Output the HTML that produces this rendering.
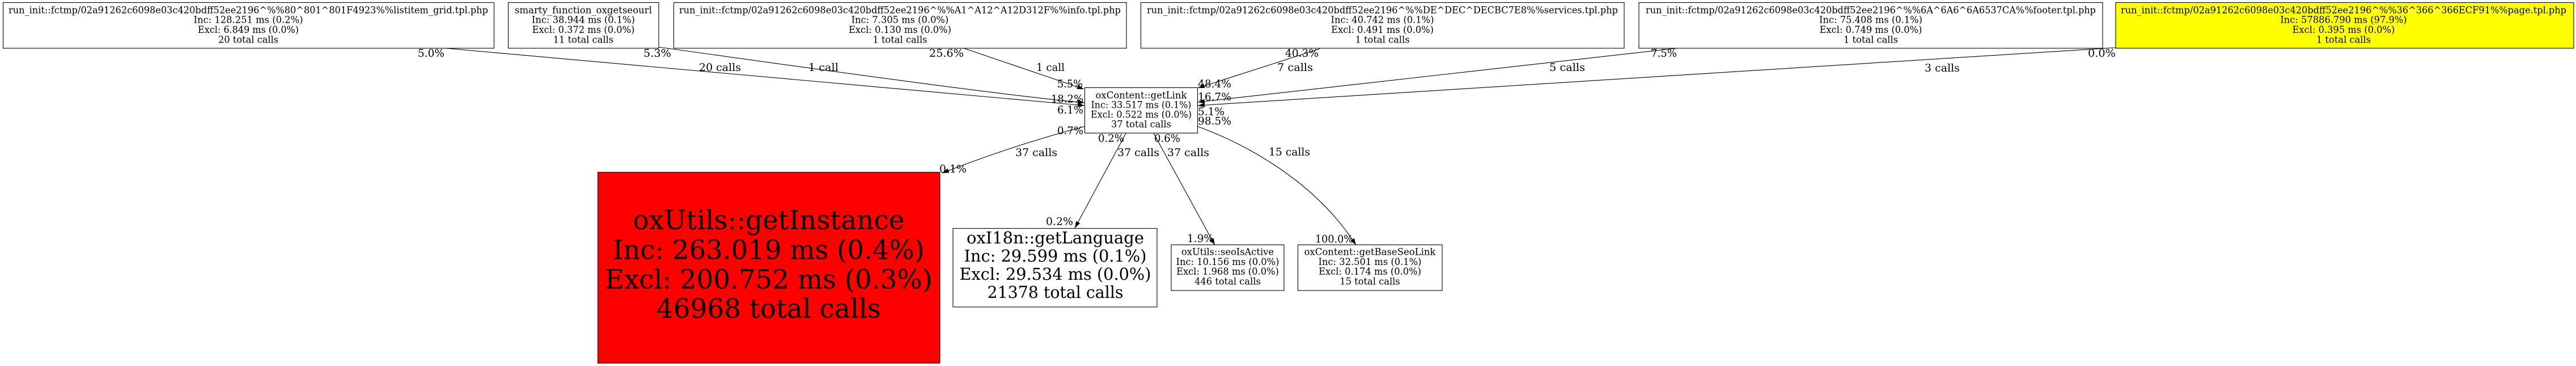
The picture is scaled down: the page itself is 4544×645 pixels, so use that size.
<!DOCTYPE html>
<html>
<head>
<meta charset="utf-8">
<style>
html,body{margin:0;padding:0;background:#fff;}
svg{display:block;}
text{font-family:"DejaVu Serif","Liberation Serif",serif;fill:#000;}
.n{font-size:16.3px;text-anchor:middle;}
.l{font-size:18.5px;}
.e{fill:none;stroke:#000;stroke-width:1.1;marker-end:url(#ah);}
.b{fill:#fff;stroke:#000;stroke-width:1.1;}
</style>
</head>
<body>
<svg width="4544" height="645" viewBox="0 0 4544 645" xmlns="http://www.w3.org/2000/svg">
<defs>
<marker id="ah" viewBox="0 0 12 8" refX="12" refY="4" markerWidth="12" markerHeight="8" orient="auto" markerUnits="userSpaceOnUse">
<path d="M0,0 L12,4 L0,8 z" fill="#000"/>
</marker>
</defs>
<rect x="0" y="0" width="4544" height="645" fill="#fff"/>

<!-- edges -->
<path class="e" d="M786,85 L1913,186"/>
<path class="e" d="M1162,83 C1400,116 1750,166 1913,181"/>
<path class="e" d="M1700,85 L1912,157"/>
<path class="e" d="M2328,86 L2113,155"/>
<path class="e" d="M2958,85 L2113,180"/>
<path class="e" d="M3732,84 L2113,186"/>
<path class="e" d="M1913,223 Q1790,255 1662,305"/>
<path class="e" d="M1986,235 L1896,402"/>
<path class="e" d="M2035,235 L2143,432"/>
<path class="e" d="M2113,223 C2200,255 2320,320 2392,432"/>

<!-- top nodes -->
<rect class="b" x="5.5" y="4.5" width="866" height="80.5"/>
<text class="n" x="438" y="23.3" textLength="846" lengthAdjust="spacingAndGlyphs">run_init::fctmp/02a91262c6098e03c420bdff52ee2196^%%80^801^801F4923%%listitem_grid.tpl.php</text>
<text class="n" x="438" y="40.7" textLength="193" lengthAdjust="spacingAndGlyphs">Inc: 128.251 ms (0.2%)</text>
<text class="n" x="438" y="58" textLength="178" lengthAdjust="spacingAndGlyphs">Excl: 6.849 ms (0.0%)</text>
<text class="n" x="438" y="75.3" textLength="106" lengthAdjust="spacingAndGlyphs">20 total calls</text>

<rect class="b" x="896.5" y="4.5" width="265.5" height="80.5"/>
<text class="n" x="1029" y="23.3" textLength="242" lengthAdjust="spacingAndGlyphs">smarty_function_oxgetseourl</text>
<text class="n" x="1029" y="40.7">Inc: 38.944 ms (0.1%)</text>
<text class="n" x="1029" y="58">Excl: 0.372 ms (0.0%)</text>
<text class="n" x="1029" y="75.3">11 total calls</text>

<rect class="b" x="1188.5" y="4.5" width="798.5" height="80.5"/>
<text class="n" x="1587.5" y="23.3" textLength="779" lengthAdjust="spacingAndGlyphs">run_init::fctmp/02a91262c6098e03c420bdff52ee2196^%%A1^A12^A12D312F%%info.tpl.php</text>
<text class="n" x="1587.5" y="40.7">Inc: 7.305 ms (0.0%)</text>
<text class="n" x="1587.5" y="58">Excl: 0.130 ms (0.0%)</text>
<text class="n" x="1587.5" y="75.3">1 total calls</text>

<rect class="b" x="2012.5" y="4.5" width="852.5" height="80.5"/>
<text class="n" x="2438.5" y="23.3" textLength="831" lengthAdjust="spacingAndGlyphs">run_init::fctmp/02a91262c6098e03c420bdff52ee2196^%%DE^DEC^DECBC7E8%%services.tpl.php</text>
<text class="n" x="2438.5" y="40.7">Inc: 40.742 ms (0.1%)</text>
<text class="n" x="2438.5" y="58">Excl: 0.491 ms (0.0%)</text>
<text class="n" x="2438.5" y="75.3">1 total calls</text>

<rect class="b" x="2891" y="4.5" width="818" height="80.5"/>
<text class="n" x="3300" y="23.3" textLength="794" lengthAdjust="spacingAndGlyphs">run_init::fctmp/02a91262c6098e03c420bdff52ee2196^%%6A^6A6^6A6537CA%%footer.tpl.php</text>
<text class="n" x="3300" y="40.7">Inc: 75.408 ms (0.1%)</text>
<text class="n" x="3300" y="58">Excl: 0.749 ms (0.0%)</text>
<text class="n" x="3300" y="75.3">1 total calls</text>

<rect class="b" x="3732" y="4.5" width="808" height="80.5" style="fill:#ffff00"/>
<text class="n" x="4134" y="23.3" textLength="786" lengthAdjust="spacingAndGlyphs">run_init::fctmp/02a91262c6098e03c420bdff52ee2196^%%36^366^366ECF91%%page.tpl.php</text>
<text class="n" x="4134" y="40.7">Inc: 57886.790 ms (97.9%)</text>
<text class="n" x="4134" y="58">Excl: 0.395 ms (0.0%)</text>
<text class="n" x="4134" y="75.3">1 total calls</text>

<!-- getLink -->
<rect class="b" x="1913.5" y="154.5" width="199" height="80"/>
<text class="n" x="2013" y="173.3" textLength="161" lengthAdjust="spacingAndGlyphs">oxContent::getLink</text>
<text class="n" x="2013" y="190.3" textLength="177" lengthAdjust="spacingAndGlyphs">Inc: 33.517 ms (0.1%)</text>
<text class="n" x="2013" y="207.3" textLength="178" lengthAdjust="spacingAndGlyphs">Excl: 0.522 ms (0.0%)</text>
<text class="n" x="2013" y="224.3" textLength="106" lengthAdjust="spacingAndGlyphs">37 total calls</text>

<!-- red getInstance -->
<rect class="b" x="1054.5" y="303.5" width="603.5" height="336.5" style="fill:#ff0000"/>
<text class="n" style="font-size:46.5px" x="1356" y="404" textLength="479" lengthAdjust="spacingAndGlyphs">oxUtils::getInstance</text>
<text class="n" style="font-size:46.5px" x="1356" y="456.5" textLength="550" lengthAdjust="spacingAndGlyphs">Inc: 263.019 ms (0.4%)</text>
<text class="n" style="font-size:46.5px" x="1356" y="508.5" textLength="578" lengthAdjust="spacingAndGlyphs">Excl: 200.752 ms (0.3%)</text>
<text class="n" style="font-size:46.5px" x="1356" y="560" textLength="396" lengthAdjust="spacingAndGlyphs">46968 total calls</text>

<!-- getLanguage -->
<rect class="b" x="1681" y="402.5" width="360" height="138.5"/>
<text class="n" style="font-size:28.7px" x="1861.5" y="429" textLength="313" lengthAdjust="spacingAndGlyphs">oxI18n::getLanguage</text>
<text class="n" style="font-size:28.7px" x="1861.5" y="461" textLength="322" lengthAdjust="spacingAndGlyphs">Inc: 29.599 ms (0.1%)</text>
<text class="n" style="font-size:28.7px" x="1861.5" y="493" textLength="338" lengthAdjust="spacingAndGlyphs">Excl: 29.534 ms (0.0%)</text>
<text class="n" style="font-size:28.7px" x="1861.5" y="525" textLength="240" lengthAdjust="spacingAndGlyphs">21378 total calls</text>

<!-- seoIsActive -->
<rect class="b" x="2066" y="431.5" width="199" height="80.5"/>
<text class="n" x="2165.5" y="449.5">oxUtils::seoIsActive</text>
<text class="n" x="2165.5" y="466.8">Inc: 10.156 ms (0.0%)</text>
<text class="n" x="2165.5" y="484">Excl: 1.968 ms (0.0%)</text>
<text class="n" x="2165.5" y="501.3">446 total calls</text>

<!-- getBaseSeoLink -->
<rect class="b" x="2289.5" y="431.5" width="254.5" height="80.5"/>
<text class="n" x="2416.5" y="449.5" textLength="232" lengthAdjust="spacingAndGlyphs">oxContent::getBaseSeoLink</text>
<text class="n" x="2416.5" y="466.8">Inc: 32.501 ms (0.1%)</text>
<text class="n" x="2416.5" y="484">Excl: 0.174 ms (0.0%)</text>
<text class="n" x="2416.5" y="501.3">15 total calls</text>

<!-- edge labels -->
<text class="l" x="737" y="100" textLength="47" lengthAdjust="spacingAndGlyphs">5.0%</text>
<text class="l" x="1135" y="100" textLength="49" lengthAdjust="spacingAndGlyphs">5.3%</text>
<text class="l" x="1233" y="125" textLength="74" lengthAdjust="spacingAndGlyphs">20 calls</text>
<text class="l" x="1426" y="125" textLength="53" lengthAdjust="spacingAndGlyphs">1 call</text>
<text class="l" x="1639" y="100" textLength="61" lengthAdjust="spacingAndGlyphs">25.6%</text>
<text class="l" x="1828" y="125" textLength="50" lengthAdjust="spacingAndGlyphs">1 call</text>
<text class="l" x="1865" y="154" textLength="45" lengthAdjust="spacingAndGlyphs">5.5%</text>
<text class="l" x="1854" y="180.7" textLength="57" lengthAdjust="spacingAndGlyphs">18.2%</text>
<text class="l" x="1865" y="200" textLength="46" lengthAdjust="spacingAndGlyphs">6.1%</text>
<text class="l" x="1865" y="236.7" textLength="46" lengthAdjust="spacingAndGlyphs">0.7%</text>
<text class="l" x="1937" y="250" textLength="46" lengthAdjust="spacingAndGlyphs">0.2%</text>
<text class="l" x="2036" y="250" textLength="46" lengthAdjust="spacingAndGlyphs">0.6%</text>
<text class="l" x="2113" y="154" textLength="59" lengthAdjust="spacingAndGlyphs">48.4%</text>
<text class="l" x="2113" y="177" textLength="59" lengthAdjust="spacingAndGlyphs">16.7%</text>
<text class="l" x="2113" y="203" textLength="47" lengthAdjust="spacingAndGlyphs">5.1%</text>
<text class="l" x="2113" y="219.3" textLength="59" lengthAdjust="spacingAndGlyphs">98.5%</text>
<text class="l" x="2267" y="100" textLength="59" lengthAdjust="spacingAndGlyphs">40.3%</text>
<text class="l" x="2253" y="125" textLength="63" lengthAdjust="spacingAndGlyphs">7 calls</text>
<text class="l" x="2733" y="125" textLength="63" lengthAdjust="spacingAndGlyphs">5 calls</text>
<text class="l" x="2912" y="100" textLength="46" lengthAdjust="spacingAndGlyphs">7.5%</text>
<text class="l" x="3395" y="126" textLength="62" lengthAdjust="spacingAndGlyphs">3 calls</text>
<text class="l" x="3683" y="100" textLength="49" lengthAdjust="spacingAndGlyphs">0.0%</text>
<text class="l" x="1791" y="275" textLength="74" lengthAdjust="spacingAndGlyphs">37 calls</text>
<text class="l" x="1971" y="275" textLength="74" lengthAdjust="spacingAndGlyphs">37 calls</text>
<text class="l" x="2059" y="275" textLength="74" lengthAdjust="spacingAndGlyphs">37 calls</text>
<text class="l" x="2238" y="274" textLength="73" lengthAdjust="spacingAndGlyphs">15 calls</text>
<text class="l" x="1657" y="304" textLength="48" lengthAdjust="spacingAndGlyphs">0.1%</text>
<text class="l" x="1845" y="396.7" textLength="48" lengthAdjust="spacingAndGlyphs">0.2%</text>
<text class="l" x="2094" y="426.7" textLength="47" lengthAdjust="spacingAndGlyphs">1.9%</text>
<text class="l" x="2320" y="427.7" textLength="67" lengthAdjust="spacingAndGlyphs">100.0%</text>
</svg>
</body>
</html>
